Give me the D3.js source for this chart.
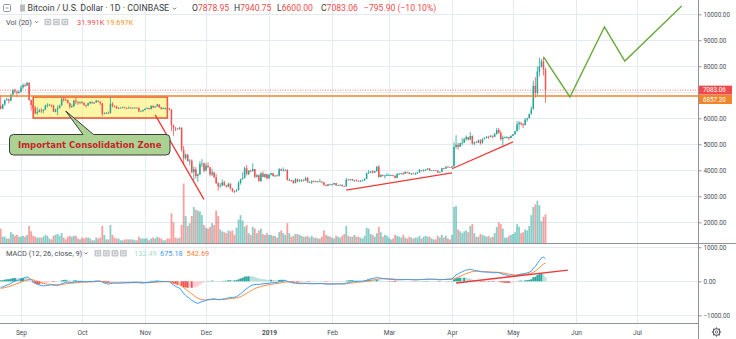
<!DOCTYPE html>
<html><head><meta charset="utf-8">
<script src="https://cdn.jsdelivr.net/npm/d3@7"></script>
<style>html,body{margin:0;padding:0;background:#fff;overflow:hidden}svg{display:block}</style>
</head><body>
<svg id="c" width="736" height="339"></svg>
<script>
// ---- daily candles [open, high, low, close, volume(K)] ----
const aug2018 = [ // Aug 22 - 31
[6480,6880,6340,6370,16],[6370,6560,6350,6530,7],[6530,6720,6480,6700,7],[6700,6800,6670,6730,5],
[6730,6760,6570,6680,5],[6680,6930,6650,6910,12],[6910,7130,6880,7080,10],[7080,7140,6960,7030,8],
[7030,7060,6810,6980,9],[6980,7080,6940,7020,7]];
const sep2018 = [
[7020,7270,7000,7190,7],[7190,7340,7130,7280,8],[7280,7340,7200,7260,7],[7260,7410,7240,7360,9],
[7360,7400,6680,6700,19],[6700,6720,6300,6510,13],[6510,6540,6380,6410,8],[6410,6480,6160,6190,7],
[6190,6420,6140,6240,6],[6240,6360,6230,6300,6],[6300,6390,6210,6280,6],[6280,6350,6190,6330,7],
[6330,6530,6320,6490,9],[6490,6580,6420,6500,8],[6500,6560,6480,6520,5],[6520,6530,6420,6500,4],
[6500,6520,6240,6250,8],[6250,6370,6230,6340,9],[6340,6490,6110,6390,10],[6390,6530,6380,6490,8],
[6490,6790,6490,6750,11],[6750,6820,6640,6710,6],[6710,6770,6680,6700,4],[6700,6720,6570,6590,7],
[6590,6600,6370,6440,8],[6440,6540,6400,6460,7],[6460,6710,6440,6680,8],[6680,6790,6540,6640,8],
[6640,6640,6520,6600,5],[6600,6650,6550,6620,4]];
const oct2018 = [
[6620,6660,6560,6590,6],[6590,6620,6480,6510,5],[6510,6520,6410,6490,6],[6490,6600,6480,6580,6],
[6580,6650,6540,6630,5],[6630,6640,6560,6580,3],[6580,6620,6550,6610,3],[6610,6710,6600,6680,6],
[6680,6680,6610,6640,5],[6640,6650,6510,6580,6],[6580,6590,6080,6180,19],[6180,6230,6150,6200,9],
[6200,6240,6180,6210,4],[6210,6260,6180,6200,4],[6200,6850,6180,6560,20],[6560,6620,6420,6480,9],
[6480,6490,6410,6450,6],[6450,6480,6360,6390,5],[6390,6430,6370,6390,5],[6390,6420,6380,6410,3],
[6410,6460,6400,6420,3],[6420,6440,6380,6400,4],[6400,6410,6370,6390,4],[6390,6460,6380,6410,4],
[6410,6420,6370,6390,4],[6390,6420,6380,6400,4],[6400,6430,6390,6410,3],[6410,6420,6390,6400,3],
[6400,6410,6230,6270,7],[6270,6300,6250,6270,5],[6270,6340,6260,6320,5]];
const nov2018 = [
[6320,6380,6300,6370,5],[6370,6420,6360,6390,5],[6390,6400,6330,6360,3],[6360,6490,6340,6480,5],
[6480,6490,6390,6420,6],[6420,6470,6400,6460,5],[6460,6560,6450,6530,7],[6530,6540,6400,6420,6],
[6420,6440,6330,6360,5],[6360,6420,6350,6400,3],[6400,6410,6330,6400,3],[6400,6410,6350,6380,5],
[6380,6400,6300,6340,5],[6340,6360,5500,5740,33],[5740,5760,5330,5640,23],[5640,5660,5510,5610,6],
[5610,5610,5550,5580,5],[5580,5670,5570,5640,6],[5640,5640,4720,4790,20],[4790,4940,4220,4470,66],
[4470,4650,4400,4600,30],[4600,4630,4340,4350,19],[4350,4430,4190,4370,22],[4370,4420,3880,3930,30],
[3930,4150,3600,4040,40],[4040,4120,3680,3780,37],[3780,3880,3550,3840,36],[3840,4350,3820,4240,35],
[4240,4430,4120,4260,31],[4260,4300,3920,3990,20]];
const dec2018 = [
[3990,4290,3960,4180,17],[4180,4310,4080,4120,16],[4120,4120,3770,3840,18],[3840,4060,3780,3920,22],
[3920,3920,3700,3730,20],[3730,3860,3480,3500,36],[3500,3550,3220,3380,30],[3380,3510,3330,3410,15],
[3410,3650,3390,3540,13],[3540,3600,3400,3420,12],[3420,3440,3340,3370,11],[3370,3530,3360,3480,14],
[3480,3500,3260,3300,13],[3300,3320,3150,3200,14],[3200,3230,3130,3190,9],[3190,3280,3180,3230,17],
[3230,3580,3230,3510,26],[3510,3680,3450,3660,31],[3660,3930,3640,3700,25],[3700,4150,3690,4080,18],
[4080,4200,3800,3860,20],[3860,4000,3810,3990,11],[3990,4030,3930,3960,9],[3960,4270,3960,4050,18],
[4050,4050,3700,3750,16],[3750,3860,3720,3810,11],[3810,3840,3570,3580,14],[3580,3930,3560,3880,16],
[3880,3960,3740,3740,10],[3740,3880,3710,3850,9],[3850,3860,3650,3690,11]];
const jan2019 = [
[3690,3850,3680,3830,9],[3830,3910,3800,3890,9],[3890,3890,3760,3780,8],[3780,3820,3740,3800,8],
[3800,3850,3780,3790,6],[3790,4090,3760,4040,12],[4040,4070,3970,3990,14],[3990,4110,3960,4000,11],
[4000,4050,3990,4010,9],[4010,4040,3600,3630,22],[3630,3690,3580,3630,11],[3630,3640,3560,3610,7],
[3610,3620,3480,3510,8],[3510,3700,3500,3660,10],[3660,3680,3540,3570,10],[3570,3660,3560,3610,9],
[3610,3650,3550,3640,8],[3640,3640,3570,3600,7],[3600,3750,3600,3700,7],[3700,3740,3530,3540,8],
[3540,3580,3510,3540,6],[3540,3620,3470,3580,8],[3580,3610,3540,3550,6],[3550,3600,3540,3580,6],
[3580,3590,3530,3570,5],[3570,3670,3560,3570,5],[3570,3580,3500,3540,7],[3540,3550,3400,3440,14],
[3440,3450,3380,3400,9],[3400,3480,3390,3460,8],[3460,3490,3430,3430,7]];
const feb2019 = [
[3430,3480,3420,3460,6],[3460,3520,3440,3510,5],[3510,3510,3410,3420,8],[3420,3450,3400,3430,7],
[3430,3460,3420,3440,6],[3440,3460,3380,3390,8],[3390,3410,3370,3380,10],[3380,3710,3370,3640,19],
[3640,3670,3620,3630,8],[3630,3670,3600,3660,7],[3660,3670,3590,3610,7],[3610,3640,3560,3610,9],
[3610,3650,3580,3600,7],[3600,3610,3560,3570,7],[3570,3630,3570,3590,6],[3590,3640,3580,3610,5],
[3610,3700,3600,3670,8],[3670,3920,3660,3890,17],[3890,4010,3860,3920,16],[3920,3970,3880,3960,10],
[3960,4000,3880,3910,9],[3910,3980,3900,3970,7],[3970,4160,3940,4140,11],[4140,4200,3720,3740,18],
[3740,3860,3740,3820,12],[3820,3830,3770,3800,7],[3800,3830,3680,3800,9],[3800,3900,3780,3810,8]];
const mar2019 = [
[3810,3860,3800,3820,6],[3820,3830,3780,3820,4],[3820,3830,3760,3790,5],[3790,3800,3680,3710,9],
[3710,3880,3700,3860,8],[3860,3900,3830,3870,7],[3870,3900,3850,3880,6],[3880,3930,3820,3860,9],
[3860,3960,3860,3940,6],[3940,3940,3890,3920,5],[3920,3930,3850,3870,7],[3870,3900,3820,3880,6],
[3880,3890,3850,3870,5],[3870,3920,3830,3870,6],[3870,3930,3860,3920,6],[3920,4050,3910,4010,8],
[4010,4010,3960,3980,5],[3980,4040,3960,3990,7],[3990,4040,3980,4030,8],[4030,4080,4010,4070,7],
[4070,4080,3970,3990,7],[3990,4010,3980,4000,5],[4000,4010,3990,4000,4],[4000,4010,3970,3990,4],
[3990,4000,3900,3920,8],[3920,3950,3900,3940,6],[3940,4090,3930,4080,9],[4080,4080,4040,4060,6],
[4060,4150,4060,4140,8],[4140,4160,4110,4130,5],[4130,4130,4100,4110,4]];
const apr2019 = [
[4110,4160,4090,4150,9],[4150,5080,4150,4900,40],[4900,5350,4830,4980,41],[4980,5060,4790,4900,15],
[4900,5060,4900,5040,13],[5040,5240,4950,5060,11],[5060,5250,5060,5200,13],[5200,5340,5130,5280,14],
[5280,5280,5150,5180,12],[5180,5470,5160,5320,19],[5320,5340,4980,5030,21],[5030,5100,4960,5080,11],
[5080,5120,5050,5070,7],[5070,5180,5040,5160,7],[5160,5190,4990,5040,10],[5040,5230,5040,5210,9],
[5210,5270,5190,5240,8],[5240,5320,5230,5290,7],[5290,5330,5210,5280,8],[5280,5350,5270,5330,6],
[5330,5340,5230,5290,7],[5290,5440,5280,5390,11],[5390,5630,5380,5550,18],[5550,5630,5410,5440,23],
[5440,5520,5140,5200,21],[5200,5340,4950,5260,16],[5260,5300,5230,5270,6],[5270,5310,5220,5280,6],
[5280,5290,5160,5240,8],[5240,5350,5230,5320,9]];
const may2019 = [ // May 1 - 17
[5320,5400,5320,5380,10],[5380,5520,5370,5500,12],[5500,5890,5500,5770,21],[5770,5890,5560,5830,18],
[5830,5850,5710,5790,11],[5790,5800,5620,5740,12],[5740,6000,5730,5950,15],[5950,6020,5870,6000,14],
[6000,6180,6000,6170,19],[6170,6460,6140,6350,31],[6350,7450,6350,7250,40],[7250,7580,6800,6980,43],
[6980,8000,6880,7800,47],[7800,8330,7610,7990,42],[7990,8280,7950,8190,24],[8190,8370,7650,7879,29],
[7878.95,7940.75,6600,7083.06,31.991]];
const firstDay = "2018-08-22";

// MACD(12,26,9) state at the left edge: [ema12, ema26, signal]
const macdSeed = [6540, 6720, -215];

// axes
const monthTicks = ["2018-09-01","2018-10-01","2018-11-01","2018-12-01","2019-01-01","2019-02-01","2019-03-01","2019-04-01","2019-05-01","2019-06-01","2019-07-01"];
const monthLabels = ["Sep","Oct","Nov","Dec","2019","Feb","Mar","Apr","May","Jun","Jul"];
const priceTicks = [2000,3000,4000,5000,6000,8000,9000,10000];
const priceGrid = [2000,3000,4000,5000,6000,7000,8000,9000,10000];
const macdTicks = [-1000,0,1000];

// drawings
const levelLine = 6857.20;
const lastClose = 7083.06;
const zoneBox = {t0:"2018-09-07", t1:"2018-11-12", top:6820, bottom:6010};
const redTrends = [
  [["2018-11-06",6130],["2018-11-30",2880]],
  [["2019-02-08",3240],["2019-04-01",3900]],
  [["2019-04-01",4060],["2019-05-01",5090]]];
const macdTrend = [["2019-04-03",-50],["2019-05-28",330]];
const projection = [["2019-05-16",8360],["2019-05-29",6820],["2019-06-15",9510],["2019-06-25",8200],["2019-07-23",10320]];
const calloutAnchor = ["2018-09-23",6280];
const calloutText = "Important Consolidation Zone";

// legend texts
const titleText = "Bitcoin / U.S. Dollar · 1D · COINBASE";
const ohlcLegend = [["O","7878.95"],["H","7940.75"],["L","6600.00"],["C","7083.06"],["","−795.90 (−10.10%)"]];
const volLegend = ["31.991K","19.697K"];
const macdLegend = ["132.49","675.18","542.69"];

// ---------------------------------------------------------------
const P = d3.utcParse("%Y-%m-%d");
const rows = [].concat(aug2018,sep2018,oct2018,nov2018,dec2018,jan2019,feb2019,mar2019,apr2019,may2019);
const d0 = P(firstDay);
const data = rows.map((r,i)=>({date:d3.utcDay.offset(d0,i),o:r[0],h:r[1],l:r[2],c:r[3],v:r[4]}));
{
  let e12=macdSeed[0], e26=macdSeed[1], sg=macdSeed[2], prev=null;
  data.forEach(d=>{
    e12 += (d.c-e12)*2/13; e26 += (d.c-e26)*2/27;
    d.macd = e12-e26; sg += (d.macd-sg)*2/10; d.sig = sg; d.hist = d.macd-sg;
    d.prevHist = prev; prev = d.hist;
  });
}

const UP="#26a69a", DN="#ef5350";
const svg = d3.select("#c");
const AX = 698.5, MAIN_B = 243, MACD_B = 323.5;
const x = d3.scaleUtc().domain([P("2018-09-01"),P("2019-07-01")]).range([21,637]);
const y = d3.scaleLinear().domain([2000,10000]).range([222.3,14.3]);
const yv = d3.scaleLinear().domain([0,100]).range([MAIN_B,153]);
const ym = d3.scaleLinear().domain([-1000,1000]).range([315.3,247.3]);

const defs = svg.append("defs");
defs.append("clipPath").attr("id","cm").append("rect").attr("x",0).attr("y",0).attr("width",AX).attr("height",MAIN_B);
defs.append("clipPath").attr("id","cd").append("rect").attr("x",0).attr("y",MAIN_B).attr("width",AX).attr("height",MACD_B-MAIN_B);

svg.append("rect").attr("width",736).attr("height",339).attr("fill","#fff");

// grid
const grid = svg.append("g").attr("stroke","#e4eaf0").attr("stroke-width",1);
monthTicks.forEach(t=>{const xx=Math.round(x(P(t)))+0.5;
  grid.append("line").attr("x1",xx).attr("x2",xx).attr("y1",0).attr("y2",MACD_B);});
priceGrid.forEach(p=>{const yy=Math.round(y(p))+0.5;
  grid.append("line").attr("x1",0).attr("x2",AX).attr("y1",yy).attr("y2",yy);});
macdTicks.forEach(p=>{const yy=Math.round(ym(p))+0.5;
  grid.append("line").attr("x1",0).attr("x2",AX).attr("y1",yy).attr("y2",yy);});

const main = svg.append("g").attr("clip-path","url(#cm)");
// volume
main.append("g").selectAll("rect").data(data).join("rect")
  .attr("x",d=>x(d.date)-0.9).attr("width",1.8)
  .attr("y",d=>yv(d.v)).attr("height",d=>MAIN_B-yv(d.v))
  .attr("fill",d=>d.c>=d.o?"rgba(38,166,154,0.55)":"rgba(239,83,80,0.55)");

// zone box
main.append("rect")
  .attr("x",x(P(zoneBox.t0))).attr("y",y(zoneBox.top))
  .attr("width",x(P(zoneBox.t1))-x(P(zoneBox.t0))).attr("height",y(zoneBox.bottom)-y(zoneBox.top))
  .attr("fill","rgba(255,240,80,0.5)").attr("stroke","#ef5b3c").attr("stroke-width",1.6);

// last price dotted line
main.append("line").attr("x1",0).attr("x2",AX).attr("y1",y(lastClose)).attr("y2",y(lastClose))
  .attr("stroke","#ef5350").attr("stroke-width",0.8).attr("stroke-dasharray","1,1.5");

// candles
const cg = main.append("g");
cg.selectAll("line").data(data).join("line")
  .attr("x1",d=>x(d.date)).attr("x2",d=>x(d.date))
  .attr("y1",d=>y(d.h)).attr("y2",d=>y(d.l))
  .attr("stroke",d=>d.c>=d.o?UP:DN).attr("stroke-width",0.8);
cg.selectAll("rect").data(data).join("rect")
  .attr("x",d=>x(d.date)-0.75).attr("width",1.5)
  .attr("y",d=>y(Math.max(d.o,d.c))).attr("height",d=>Math.max(0.8,Math.abs(y(d.o)-y(d.c))))
  .attr("fill",d=>d.c>=d.o?UP:DN);

// orange level
main.append("line").attr("x1",0).attr("x2",AX).attr("y1",y(levelLine)).attr("y2",y(levelLine))
  .attr("stroke","#f0862a").attr("stroke-width",1.6);

// trend lines
const tl = d3.line().x(p=>x(P(p[0]))).y(p=>y(p[1]));
redTrends.forEach(t=>main.append("path").attr("d",tl(t)).attr("fill","none").attr("stroke","#f03a3a").attr("stroke-width",1.3));
main.append("path").attr("d",tl(projection)).attr("fill","none").attr("stroke","#6aaa3c").attr("stroke-width",1.4).attr("stroke-linejoin","miter");

// callout
{
  const ax = x(P(calloutAnchor[0])), ay = y(calloutAnchor[1]);
  const L=9.5, R=170, T=134.5, B=155, r=4, b0=83, b1=93.5;
  const path = `M${L+r},${T} L${b0},${T} L${ax},${ay} L${b1},${T} L${R-r},${T} Q${R},${T} ${R},${T+r} L${R},${B-r} Q${R},${B} ${R-r},${B} L${L+r},${B} Q${L},${B} ${L},${B-r} L${L},${T+r} Q${L},${T} ${L+r},${T} Z`;
  svg.append("path").attr("d",path).attr("fill","#abd193").attr("stroke","#3a3f3a").attr("stroke-width",1);
  svg.append("text").attr("x",(L+R)/2).attr("y",148).attr("text-anchor","middle")
    .attr("font-family","DejaVu Sans").attr("font-weight","bold").attr("font-size",8.5).attr("fill","#c4262c")
    .text(calloutText);
}

// MACD pane
const mg = svg.append("g").attr("clip-path","url(#cd)");
mg.selectAll("rect").data(data).join("rect")
  .attr("x",d=>x(d.date)-1).attr("width",2)
  .attr("y",d=>d.hist>=0?ym(d.hist):ym(0)).attr("height",d=>Math.abs(ym(d.hist)-ym(0)))
  .attr("fill",d=>{const up = d.prevHist===null || d.hist>=d.prevHist;
     return d.hist>=0 ? (up?"#26a69a":"#b2dfdb") : (up?"#ffcdd2":"#ef5350");});
const ml = d3.line().x(d=>x(d.date));
mg.append("path").attr("d",ml.y(d=>ym(d.sig))(data)).attr("fill","none").attr("stroke","#ff8a3d").attr("stroke-width",1);
mg.append("path").attr("d",ml.y(d=>ym(d.macd))(data)).attr("fill","none").attr("stroke","#3d9bf0").attr("stroke-width",1);
mg.append("path").attr("d",d3.line().x(p=>x(P(p[0]))).y(p=>ym(p[1]))(macdTrend)).attr("fill","none").attr("stroke","#f03a3a").attr("stroke-width",1.3);

// frame lines
const fr = svg.append("g").attr("stroke","#8e939b").attr("stroke-width",1);
fr.append("line").attr("x1",0).attr("x2",736).attr("y1",MAIN_B+0.5).attr("y2",MAIN_B+0.5);
fr.append("line").attr("x1",0).attr("x2",AX).attr("y1",MACD_B).attr("y2",MACD_B);
fr.append("line").attr("x1",AX).attr("x2",AX).attr("y1",0).attr("y2",339);

// axes
const FONT = "Roboto, 'Open Sans', sans-serif";
function styleAxis(g){
  g.select(".domain").remove();
  g.selectAll("line").attr("stroke","#8e939b");
  g.selectAll("text").attr("font-family",FONT).attr("font-size",6.3).attr("fill","#4a4f57");
}
svg.append("g").attr("transform",`translate(${AX},0)`)
  .call(d3.axisRight(y).tickValues(priceTicks).tickSize(3).tickPadding(2).tickFormat(d=>d.toFixed(2))).call(styleAxis);
svg.append("g").attr("transform",`translate(${AX},0)`)
  .call(d3.axisRight(ym).tickValues(macdTicks).tickSize(3).tickPadding(2)
    .tickFormat(d=>(d<0?"−":"")+Math.abs(d).toFixed(2))).call(styleAxis);
const gx = svg.append("g").attr("transform",`translate(0,${MACD_B})`)
  .call(d3.axisBottom(x).tickValues(monthTicks.map(P)).tickSize(0).tickPadding(6.5)
    .tickFormat((d,i)=>monthLabels[i])).call(styleAxis);
gx.selectAll("text").attr("font-size",6.6).filter(function(){return this.textContent==="2019";}).attr("font-weight","bold");

// price label boxes
function priceTag(p,color,yy){
  svg.append("rect").attr("x",AX+0.5).attr("y",yy-4.5).attr("width",33).attr("height",9).attr("fill",color);
  svg.append("text").attr("x",AX+4.5).attr("y",yy).attr("dy","0.35em").attr("font-family",FONT)
    .attr("font-size",6.3).attr("fill","#fff").text(p.toFixed(2));
}
priceTag(lastClose,"#ef4b4b",y(lastClose));
priceTag(levelLine,"#f0862a",y(levelLine)+3.5);

// gear
{
  const g = svg.append("g").attr("transform","translate(716.5,332)").attr("stroke","#5a5f66").attr("fill","none");
  g.append("circle").attr("r",3.2).attr("stroke-width",1.1);
  g.append("circle").attr("r",1.2).attr("stroke-width",0.8);
  for(let i=0;i<8;i++){const a=i*Math.PI/4;
    g.append("line").attr("x1",3.2*Math.cos(a)).attr("y1",3.2*Math.sin(a)).attr("x2",4.6*Math.cos(a)).attr("y2",4.6*Math.sin(a)).attr("stroke-width",1.2);}
}

// legends
const lg = svg.append("g").attr("font-family",FONT);
// header
lg.append("rect").attr("x",3.5).attr("y",4.5).attr("width",7).attr("height",7).attr("rx",1).attr("fill","none").attr("stroke","#7a7f86").attr("stroke-width",0.8);
lg.append("line").attr("x1",5.5).attr("x2",8.5).attr("y1",8).attr("y2",8).attr("stroke","#7a7f86").attr("stroke-width",0.8);
lg.append("rect").attr("x",20).attr("y",4.5).attr("width",5).attr("height",7).attr("fill","#b9bcc1");
lg.append("text").attr("x",27.5).attr("y",11.3).attr("font-size",8.8).attr("fill","#363a40").text(titleText);
function chevron(cx,cy){lg.append("path").attr("d",`M${cx-1.6},${cy-0.8} L${cx},${cy+0.8} L${cx+1.6},${cy-0.8}`).attr("fill","none").attr("stroke","#555").attr("stroke-width",0.8);}
chevron(174.5,8.5);
const ohlcX = [192,234,277,321,364];
ohlcLegend.forEach((o,i)=>{
  const t = lg.append("text").attr("x",ohlcX[i]).attr("y",11.3).attr("font-size",8.6);
  if(o[0]) t.append("tspan").attr("fill","#363a40").text(o[0]);
  t.append("tspan").attr("fill","#ef4b4b").text(o[1]);
});
// vol row
lg.append("text").attr("x",6).attr("y",24.8).attr("font-size",7.4).attr("fill","#4a4f57").text("Vol (20)");
chevron(36.5,22);
function icons(x0,n,cy){for(let i=0;i<n;i++){
  lg.append("rect").attr("x",x0+i*8.5).attr("y",cy-3.3).attr("width",6.8).attr("height",6.6).attr("rx",0.8).attr("fill","#c3c6cb");
  lg.append("rect").attr("x",x0+i*8.5+1.8).attr("y",cy-1.5).attr("width",3.2).attr("height",3).attr("fill","none").attr("stroke","#f4f4f4").attr("stroke-width",0.7);}}
icons(44.5,3,22);
lg.append("text").attr("x",77).attr("y",24.8).attr("font-size",7.4).attr("fill","#ef4b4b").text(volLegend[0]);
lg.append("text").attr("x",106).attr("y",24.8).attr("font-size",7.4).attr("fill","#f5962a").text(volLegend[1]);
// macd row
lg.append("text").attr("x",6).attr("y",256).attr("font-size",7.4).attr("fill","#4a4f57").text("MACD (12, 26, close, 9)");
chevron(86,253.3);
icons(94.5,4,253.3);
const mcol = ["#a9dcd3","#3d9bf0","#ff7f36"], mx=[134,160,186.5];
macdLegend.forEach((v,i)=>lg.append("text").attr("x",mx[i]).attr("y",256).attr("font-size",7.4).attr("fill",mcol[i]).text(v));
</script></body></html>
